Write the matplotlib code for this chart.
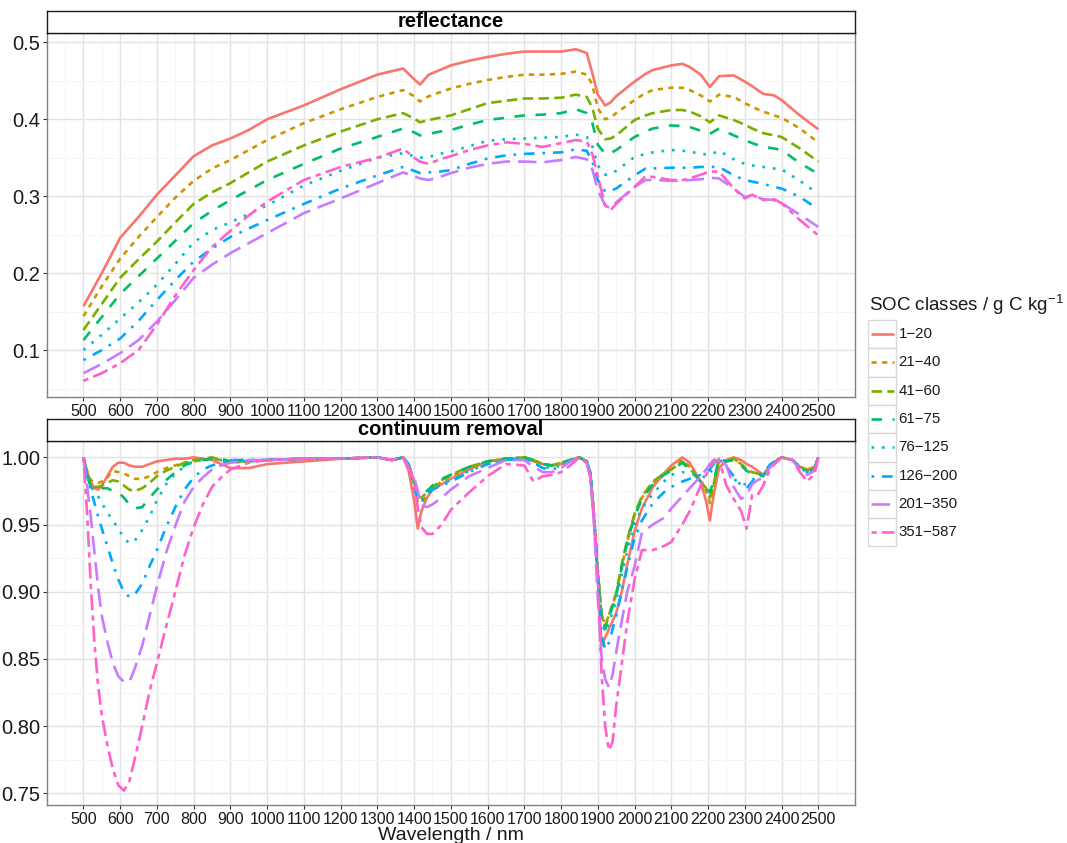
import matplotlib
matplotlib.use("Agg")
import matplotlib.pyplot as plt
from matplotlib.patches import Rectangle

plt.rcParams["font.family"] = ["Liberation Sans", "DejaVu Sans"]
plt.rcParams["mathtext.fontset"] = "custom"
plt.rcParams["mathtext.rm"] = "Liberation Sans"
plt.rcParams["mathtext.it"] = "Liberation Sans:italic"

# ============================================================
# DATA
# ============================================================
CLASSES = ["1\u221220", "21\u221240", "41\u221260", "61\u221275",
           "76\u2212125", "126\u2212200", "201\u2212350", "351\u2212587"]

# reflectance panel
WL_REFL = [500, 550, 600, 650, 700, 750, 800, 850, 900, 950, 1000,
           1100, 1200, 1300,
           1370, 1400, 1416, 1440, 1470,
           1500, 1550, 1600, 1650, 1700, 1750, 1800,
           1840, 1870, 1885, 1900, 1920, 1935, 1950,
           2000, 2030, 2050, 2100, 2130, 2150, 2180, 2205, 2230,
           2270, 2300, 2320, 2350, 2380, 2400, 2450, 2500]

refl_1_20 = [.157, .200, .246, .273, .302, .327, .352, .366, .375, .386, .400,
             .418, .439, .458,
             .466, .452, .445, .458, .464,
             .470, .476, .481, .485, .488, .488, .488,
             .491, .486, .460, .432, .418, .422, .430,
             .449, .459, .464, .470, .472, .468, .458, .442, .456,
             .457, .449, .443, .433, .431, .425, .405, .387]
refl_21_40 = [.144, .183, .219, .247, .273, .298, .320, .336, .347, .360, .373,
              .395, .413, .429,
              .438, .430, .423, .430, .435,
              .440, .446, .451, .455, .458, .458, .459,
              .462, .458, .445, .414, .400, .402, .408,
              .425, .434, .438, .441, .441, .438, .431, .423, .432,
              .429, .421, .416, .410, .405, .402, .388, .370]
refl_41_60 = [.126, .160, .194, .218, .241, .266, .290, .305, .317, .331, .345,
              .366, .384, .400,
              .408, .401, .396, .399, .402,
              .405, .413, .421, .424, .427, .427, .428,
              .432, .429, .415, .388, .374, .375, .379,
              .399, .405, .408, .412, .412, .410, .404, .396, .405,
              .399, .393, .388, .382, .379, .377, .362, .345]
refl_61_75 = [.113, .143, .173, .196, .219, .242, .265, .281, .295, .308, .321,
              .342, .362, .377,
              .388, .383, .379, .381, .384,
              .386, .393, .399, .402, .405, .406, .408,
              .413, .408, .395, .367, .355, .356, .360,
              .377, .384, .388, .392, .391, .390, .385, .381, .388,
              .379, .373, .369, .364, .362, .360, .343, .329]
refl_76_125 = [.100, .120, .141, .162, .185, .212, .240, .256, .266, .277, .288,
               .314, .333, .350,
               .356, .352, .350, .351, .355,
               .358, .365, .372, .374, .375, .376, .377,
               .380, .377, .365, .340, .328, .329, .333,
               .351, .355, .357, .360, .359, .358, .355, .354, .359,
               .348, .342, .340, .338, .336, .335, .320, .303]
refl_126_200 = [.087, .100, .115, .138, .165, .191, .215, .232, .247, .258, .269,
                .290, .310, .327,
                .338, .333, .330, .331, .332,
                .334, .342, .349, .353, .355, .356, .357,
                .361, .359, .345, .321, .306, .307, .310,
                .327, .336, .336, .337, .337, .337, .338, .338, .338,
                .327, .321, .319, .316, .312, .310, .299, .283]
refl_201_350 = [.070, .082, .096, .113, .137, .165, .194, .211, .226, .239, .252,
                .278, .297, .317,
                .331, .326, .323, .321, .325,
                .330, .337, .342, .345, .345, .344, .347,
                .351, .348, .335, .308, .288, .284, .292,
                .312, .321, .321, .320, .320, .321, .322, .324, .323,
                .310, .299, .301, .296, .295, .291, .276, .260]
refl_351_587 = [.060, .070, .083, .100, .133, .171, .204, .234, .255, .275, .293,
                .321, .338, .350,
                .362, .350, .345, .342, .348,
                .352, .360, .366, .370, .368, .364, .369,
                .373, .371, .355, .326, .288, .282, .290,
                .312, .326, .325, .321, .321, .323, .328, .332, .332,
                .310, .297, .302, .295, .296, .291, .269, .249]

# continuum removal panel
WL_CR = [500, 510, 520, 530, 540, 550, 565, 580, 595, 610, 625, 640, 660,
         680, 700, 725, 750, 775, 800, 825, 850, 875, 900, 950, 1000,
         1100, 1200, 1300, 1340, 1370, 1385, 1400, 1410, 1420, 1435, 1450,
         1475, 1500, 1550, 1600, 1650, 1700, 1725, 1750, 1775, 1800, 1825, 1850,
         1870, 1880, 1890, 1900, 1910, 1920, 1930, 1940, 1950, 1965, 1980,
         2000, 2020, 2050, 2080, 2100, 2130, 2150, 2180, 2195, 2205, 2215, 2230, 2250,
         2270, 2290, 2305, 2320, 2335, 2350, 2370, 2400, 2430, 2450, 2470, 2490, 2500]

cr_1_20 = [1.000, .989, .982, .977, .976, .979, .986, .993, .996, .996, .994, .993, .993,
           .995, .997, .998, .999, .999, 1.000, .999, .998, .995, .992, .992, .995,
           .997, .999, 1.000, .998, 1.000, .990, .968, .947, .960, .970, .976,
           .980, .984, .991, .997, .999, .999, .997, .995, .994, .995, .998, 1.000,
           .996, .985, .950, .910, .860, .866, .872, .878, .884, .900, .920,
           .945, .962, .978, .988, .994, 1.000, .996, .982, .967, .953, .972, .992, .998,
           1.000, .998, .995, .993, .990, .987, .994, 1.000, .998, .993, .991, .993, 1.000]
cr_21_40 = [1.000, .990, .983, .982, .981, .982, .985, .990, .989, .988, .986, .984, .984,
            .986, .989, .992, .994, .996, .997, .998, .999, .998, .996, .997, .998,
            .999, .999, 1.000, .998, 1.000, .995, .980, .967, .966, .972, .977,
            .982, .986, .992, .997, .999, 1.000, .998, .995, .994, .996, .998, 1.000,
            .997, .988, .955, .915, .882, .876, .882, .890, .898, .918, .937,
            .957, .970, .981, .988, .991, .998, .993, .982, .975, .966, .978, .998, .997,
            .999, .995, .991, .989, .988, .986, .994, 1.000, .998, .993, .990, .992, 1.000]
cr_41_60 = [1.000, .988, .981, .978, .978, .979, .981, .983, .982, .979, .976, .975, .977,
            .981, .986, .990, .993, .996, .998, .999, 1.000, .998, .997, .997, .998,
            .999, .999, 1.000, .998, 1.000, .995, .982, .971, .970, .974, .978,
            .983, .987, .993, .997, .999, 1.000, .998, .995, .994, .996, .998, 1.000,
            .997, .988, .955, .916, .884, .874, .882, .891, .899, .920, .939,
            .958, .971, .982, .988, .991, .997, .992, .982, .977, .970, .980, .999, .997,
            .999, .995, .991, .989, .988, .986, .994, 1.000, .998, .993, .990, .992, 1.000]
cr_61_75 = [1.000, .986, .978, .976, .976, .977, .977, .975, .974, .970, .965, .962, .963,
            .970, .976, .983, .989, .994, .997, .998, .999, .999, .997, .997, .998,
            .999, .999, 1.000, .998, 1.000, .995, .982, .972, .971, .975, .979,
            .984, .987, .993, .997, .999, 1.000, .998, .995, .994, .996, .998, 1.000,
            .997, .988, .955, .915, .882, .872, .880, .889, .897, .918, .937,
            .956, .969, .980, .987, .990, .996, .991, .982, .978, .974, .982, .999, .997,
            .998, .994, .990, .988, .987, .986, .994, 1.000, .998, .992, .989, .991, 1.000]
cr_76_125 = [1.000, .986, .978, .975, .971, .966, .959, .953, .947, .940, .936, .938, .946,
             .956, .968, .980, .988, .993, .997, .998, .999, .998, .998, .998, .998,
             .999, .999, 1.000, .998, 1.000, .995, .980, .970, .968, .972, .976,
             .980, .983, .990, .995, .998, .999, .996, .993, .992, .994, .998, 1.000,
             .997, .988, .955, .913, .878, .870, .876, .885, .893, .913, .930,
             .950, .962, .973, .982, .987, .989, .988, .986, .985, .988, .993, .999, .994,
             .984, .980, .980, .983, .986, .987, .995, 1.000, .998, .992, .989, .991, 1.000]
cr_126_200 = [1.000, .986, .976, .966, .956, .947, .934, .921, .909, .900, .896, .898, .906,
              .919, .931, .948, .963, .976, .985, .991, .994, .996, .998, .998, .998,
              .999, .999, 1.000, .998, 1.000, .995, .978, .968, .967, .972, .976,
              .979, .982, .989, .995, .998, .999, .996, .992, .991, .993, .997, 1.000,
              .997, .988, .955, .910, .868, .857, .862, .872, .882, .900, .918,
              .940, .953, .966, .974, .978, .982, .984, .987, .989, .991, .995, .999, .993,
              .986, .979, .977, .982, .987, .988, .995, 1.000, .998, .992, .989, .991, 1.000]
cr_201_350 = [1.000, .978, .956, .929, .903, .882, .863, .847, .837, .833, .833, .843, .860,
              .882, .904, .929, .949, .967, .978, .985, .991, .994, .996, .998, .998,
              .999, .999, 1.000, .998, 1.000, .993, .985, .975, .964, .963, .965,
              .970, .976, .986, .992, .998, .998, .993, .989, .989, .992, .997, 1.000,
              .996, .985, .950, .895, .852, .835, .829, .838, .855, .878, .900,
              .919, .944, .950, .955, .962, .971, .977, .986, .991, .995, .998, .999, .994,
              .978, .969, .972, .980, .983, .985, .993, 1.000, .998, .991, .987, .990, 1.000]
cr_351_587 = [1.000, .958, .905, .862, .830, .808, .786, .768, .756, .752, .759, .776, .800,
              .826, .847, .874, .900, .927, .948, .965, .978, .985, .991, .996, .998,
              .999, .999, 1.000, .998, 1.000, .993, .983, .962, .948, .943, .943,
              .950, .961, .974, .986, .995, .994, .982, .986, .987, .989, .994, 1.000,
              .996, .985, .955, .912, .840, .800, .782, .788, .815, .846, .877,
              .909, .931, .931, .934, .937, .950, .960, .979, .987, .992, .997, .998, .979,
              .969, .960, .947, .972, .972, .979, .992, 1.000, .998, .989, .982, .988, 1.000]

REFL = [refl_1_20, refl_21_40, refl_41_60, refl_61_75,
        refl_76_125, refl_126_200, refl_201_350, refl_351_587]
CR = [cr_1_20, cr_21_40, cr_41_60, cr_61_75,
      cr_76_125, cr_126_200, cr_201_350, cr_351_587]

X_TICKS = list(range(500, 2501, 100))
REFL_TICKS = [0.1, 0.2, 0.3, 0.4, 0.5]
CR_TICKS = [0.75, 0.80, 0.85, 0.90, 0.95, 1.00]

# ============================================================
# STYLE
# ============================================================
W, H = 1067, 843
DPI = 100
COLORS = ["#F8766D", "#CD9600", "#7CAE00", "#00BE67",
          "#00BFC4", "#00A9FF", "#C77CFF", "#FF61CC"]
# ggplot default linetypes: solid, 22, 42, 44, 13, 1343, 73, 2262
DASHES = [None, (2, 2), (4, 2), (4, 4), (1, 3), (1, 3, 4, 3), (7, 3), (2, 2, 6, 2)]
LW = 1.9


def px_box(x0, y0, x1, y1):
    # pixel box (top-left origin) -> figure fraction
    return [x0 / W, 1 - y1 / H, (x1 - x0) / W, (y1 - y0) / H]


def style_line(line, dash):
    line.set_solid_capstyle("butt")
    line.set_dash_capstyle("butt")
    if dash is not None:
        line.set_dashes(dash)


def style_panel(ax, yticks, ylim, yfmt, yminor):
    ax.set_xlim(400, 2600)
    ax.set_ylim(*ylim)
    ax.set_xticks(X_TICKS)
    ax.set_xticks(list(range(450, 2600, 100)), minor=True)
    ax.set_yticks(yticks)
    ax.set_yticks(yminor, minor=True)
    ax.set_yticklabels([yfmt % v for v in yticks])
    ax.grid(which="major", color="#E3E3E3", linewidth=1.0)
    ax.grid(which="minor", color="#F5F5F5", linewidth=0.7)
    ax.set_axisbelow(True)
    ax.tick_params(which="minor", length=0)
    ax.tick_params(which="major", length=3, width=0.8, color="#333333")
    ax.tick_params(axis="x", labelsize=11.5, pad=2, labelcolor="#1A1A1A")
    ax.tick_params(axis="y", labelsize=14.5, pad=1.5, labelcolor="#1A1A1A")
    for s in ax.spines.values():
        s.set_color("#808080")
        s.set_linewidth(1.0)


def add_strip(box, label):
    st = fig.add_axes(px_box(*box))
    st.set_xticks([])
    st.set_yticks([])
    st.set_facecolor("white")
    for s in st.spines.values():
        s.set_color("#1A1A1A")
        s.set_linewidth(1.0)
    st.text(0.5, 0.5, label, ha="center", va="center",
            fontsize=14.5, fontweight="bold", transform=st.transAxes)


# ============================================================
# FIGURE
# ============================================================
fig = plt.figure(figsize=(W / DPI, H / DPI), dpi=DPI)
fig.patch.set_facecolor("white")

ax_top = fig.add_axes(px_box(46.7, 32.7, 855, 397))
ax_bot = fig.add_axes(px_box(46.7, 440.7, 855, 805))

for vals, c, d in zip(REFL, COLORS, DASHES):
    ln, = ax_top.plot(WL_REFL, vals, color=c, linewidth=LW)
    style_line(ln, d)

for vals, c, d in zip(CR, COLORS, DASHES):
    ln, = ax_bot.plot(WL_CR, vals, color=c, linewidth=LW)
    style_line(ln, d)

style_panel(ax_top, REFL_TICKS, (0.039, 0.5125), "%.1f",
            [0.05, 0.15, 0.25, 0.35, 0.45])
style_panel(ax_bot, CR_TICKS, (0.7413, 1.0124), "%.2f",
            [0.775, 0.825, 0.875, 0.925, 0.975])

add_strip((46.7, 11, 855, 32.7), "reflectance")
add_strip((46.7, 419, 855, 440.7), "continuum removal")

# axis title sits right under the tick labels (cut at the bottom as in ggplot export)
fig.text(450.8 / W, 1 - 840.5 / H, "Wavelength / nm", ha="center", va="baseline",
         fontsize=14, color="#1A1A1A")

# ------------------------------------------------------------
# Legend (ggplot style key boxes)
# ------------------------------------------------------------
leg = fig.add_axes([0, 0, 1, 1])
leg.set_xlim(0, W)
leg.set_ylim(H, 0)
leg.axis("off")

leg.text(869, 305, "SOC classes / g C kg$^{-1}$", ha="left", va="center",
         fontsize=13.5, color="#1A1A1A")

KEY_TOP, KEY_H, KEY_X, KEY_W = 320, 28.3, 868.3, 27.7
for i, (cls, c, d) in enumerate(zip(CLASSES, COLORS, DASHES)):
    y0 = KEY_TOP + i * KEY_H
    leg.add_patch(Rectangle((KEY_X, y0), KEY_W, KEY_H, facecolor="white",
                            edgecolor="#D9D9D9", linewidth=1.0))
    yc = y0 + KEY_H / 2
    ln, = leg.plot([KEY_X + 2.4, KEY_X + KEY_W - 2.4], [yc, yc],
                   color=c, linewidth=LW)
    style_line(ln, d)
    leg.text(KEY_X + KEY_W + 2.5, yc, cls, ha="left", va="center",
             fontsize=10.8, color="#1A1A1A")

fig.savefig("out.png", dpi=DPI)
